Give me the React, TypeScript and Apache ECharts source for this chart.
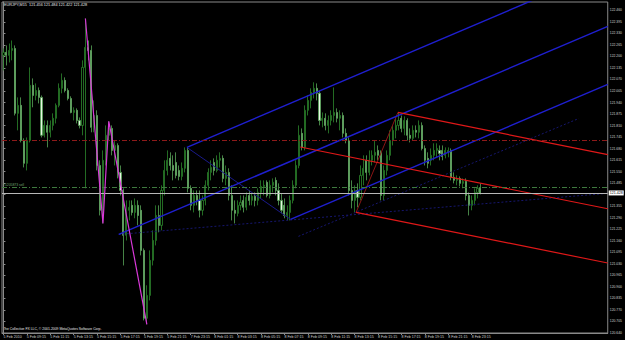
import React, { useEffect, useRef } from 'react';
import * as echarts from 'echarts';

// ---------- data ----------
const symbolTitle = 'EURJPY,M15  121.456 121.484 121.422 121.428';
const copyright = 'The Collective FX LLC, \u00a9 2001-2009 MetaQuotes Software Corp.';
const orderLabel = '#1205873 sell';

const timeLabels = [
  '5 Feb 2010', '5 Feb 09:15', '5 Feb 11:15', '5 Feb 13:15', '5 Feb 15:15', '5 Feb 17:15',
  '5 Feb 19:15', '5 Feb 21:15', '7 Feb 23:15', '8 Feb 01:15', '8 Feb 03:15', '8 Feb 05:15',
  '8 Feb 07:15', '8 Feb 09:15', '8 Feb 11:15', '8 Feb 13:15', '8 Feb 15:15', '8 Feb 17:15',
  '8 Feb 19:15', '8 Feb 21:15', '8 Feb 23:15',
];

const opens = [
  122.206, 122.223, 122.206, 122.234, 122.245, 121.879, 121.924, 121.726, 121.597, 121.726,
  122.037, 121.980, 122.008, 121.969, 121.755, 121.811, 121.772, 121.811, 121.851, 121.924,
  122.020, 122.065, 122.008, 121.963, 121.884, 121.896, 121.839, 121.811, 122.138, 122.251,
  122.234, 121.800, 121.867, 121.585, 121.332, 121.614, 121.755, 121.794, 121.670, 121.698,
  121.546, 121.444, 121.191, 121.332, 121.360, 121.320, 121.360, 121.332, 121.106, 120.723,
  120.852, 121.050, 121.162, 121.303, 121.247, 121.444, 121.557, 121.625, 121.585, 121.602,
  121.557, 121.523, 121.569, 121.670, 121.456, 121.360, 121.416, 121.388, 121.332, 121.388,
  121.473, 121.546, 121.602, 121.557, 121.614, 121.625, 121.512, 121.546, 121.416, 121.332,
  121.315, 121.360, 121.388, 121.349, 121.416, 121.388, 121.411, 121.388, 121.433, 121.467,
  121.490, 121.416, 121.473, 121.501, 121.444, 121.388, 121.360, 121.303, 121.320, 121.388,
  121.473, 121.585, 121.766, 121.687, 121.896, 121.952, 121.997, 122.020, 121.992, 121.839,
  121.851, 121.811, 121.839, 121.867, 121.884, 121.851, 121.867, 121.766, 121.726, 121.444,
  121.388, 121.444, 121.405, 121.529, 121.614, 121.546, 121.614, 121.642, 121.670, 121.659,
  121.416, 121.557, 121.642, 121.726, 121.783, 121.811, 121.851, 121.794, 121.839, 121.755,
  121.738, 121.783, 121.772, 121.811, 121.681, 121.625, 121.614, 121.642, 121.670, 121.670,
  121.670, 121.642, 121.659, 121.670, 121.518, 121.501, 121.512, 121.484, 121.495, 121.416,
  121.360, 121.388, 121.433, 121.456,
];
const closes = [
  122.223, 122.206, 122.234, 122.245, 121.879, 121.924, 121.726, 121.597, 121.726, 122.037,
  121.980, 122.008, 121.969, 121.755, 121.811, 121.772, 121.811, 121.851, 121.924, 122.020,
  122.065, 122.008, 121.963, 121.884, 121.896, 121.839, 121.811, 122.138, 122.251, 122.234,
  121.800, 121.867, 121.585, 121.332, 121.614, 121.755, 121.794, 121.670, 121.698, 121.546,
  121.444, 121.191, 121.332, 121.349, 121.320, 121.360, 121.303, 121.106, 120.723, 120.852,
  121.050, 121.162, 121.303, 121.247, 121.444, 121.557, 121.614, 121.585, 121.557, 121.529,
  121.523, 121.569, 121.670, 121.456, 121.360, 121.416, 121.388, 121.332, 121.388, 121.473,
  121.546, 121.574, 121.557, 121.614, 121.625, 121.512, 121.546, 121.416, 121.332, 121.315,
  121.360, 121.377, 121.349, 121.405, 121.388, 121.411, 121.388, 121.433, 121.467, 121.473,
  121.416, 121.473, 121.490, 121.444, 121.388, 121.332, 121.303, 121.320, 121.388, 121.473,
  121.585, 121.755, 121.687, 121.896, 121.952, 121.997, 122.020, 121.992, 121.839, 121.851,
  121.811, 121.839, 121.867, 121.884, 121.851, 121.867, 121.766, 121.726, 121.444, 121.388,
  121.444, 121.405, 121.529, 121.569, 121.546, 121.614, 121.642, 121.659, 121.642, 121.416,
  121.557, 121.642, 121.726, 121.783, 121.811, 121.839, 121.794, 121.839, 121.755, 121.738,
  121.783, 121.772, 121.811, 121.681, 121.614, 121.597, 121.642, 121.670, 121.681, 121.653,
  121.636, 121.670, 121.670, 121.518, 121.501, 121.512, 121.484, 121.495, 121.416, 121.360,
  121.388, 121.433, 121.456, 121.428,
];
const lows = [
  122.121, 122.149, 122.166, 122.178, 121.867, 121.783, 121.715, 121.574, 121.557, 121.715,
  121.913, 121.952, 121.935, 121.743, 121.743, 121.687, 121.743, 121.783, 121.822, 121.913,
  121.992, 121.997, 121.952, 121.879, 121.839, 121.822, 121.794, 121.755, 121.456, 122.178,
  121.772, 121.772, 121.557, 121.303, 121.258, 121.585, 121.726, 121.642, 121.585, 121.512,
  121.416, 121.021, 121.162, 121.275, 121.303, 121.287, 121.247, 121.078, 120.711, 120.689,
  120.824, 121.021, 121.134, 121.208, 121.219, 121.416, 121.529, 121.557, 121.501, 121.512,
  121.501, 121.501, 121.546, 121.433, 121.332, 121.320, 121.360, 121.292, 121.303, 121.360,
  121.444, 121.501, 121.529, 121.546, 121.574, 121.490, 121.473, 121.388, 121.275, 121.258,
  121.298, 121.332, 121.320, 121.332, 121.360, 121.360, 121.354, 121.360, 121.399, 121.416,
  121.405, 121.399, 121.433, 121.416, 121.360, 121.315, 121.287, 121.275, 121.275, 121.371,
  121.456, 121.569, 121.670, 121.670, 121.867, 121.907, 121.963, 121.952, 121.811, 121.800,
  121.783, 121.766, 121.811, 121.828, 121.828, 121.783, 121.743, 121.710, 121.416, 121.343,
  121.320, 121.349, 121.388, 121.473, 121.501, 121.529, 121.585, 121.602, 121.614, 121.388,
  121.388, 121.529, 121.614, 121.698, 121.738, 121.783, 121.772, 121.755, 121.726, 121.715,
  121.726, 121.743, 121.738, 121.670, 121.585, 121.569, 121.585, 121.614, 121.631, 121.614,
  121.614, 121.625, 121.631, 121.501, 121.484, 121.473, 121.467, 121.456, 121.388, 121.303,
  121.332, 121.360, 121.399, 121.422,
];
const highs = [
  122.245, 122.262, 122.273, 122.290, 122.262, 121.969, 121.969, 121.738, 121.743, 122.138,
  122.076, 122.048, 122.025, 121.980, 121.839, 121.839, 121.839, 121.879, 121.935, 122.048,
  122.104, 122.082, 122.020, 121.975, 121.913, 121.907, 121.856, 122.178, 122.414, 122.290,
  122.262, 121.952, 121.896, 121.614, 121.670, 121.811, 121.834, 121.811, 121.726, 121.710,
  121.585, 121.456, 121.388, 121.388, 121.388, 121.399, 121.388, 121.360, 121.117, 120.909,
  121.106, 121.219, 121.360, 121.360, 121.473, 121.614, 121.670, 121.659, 121.642, 121.659,
  121.585, 121.602, 121.687, 121.687, 121.473, 121.444, 121.444, 121.444, 121.416, 121.501,
  121.569, 121.614, 121.625, 121.642, 121.659, 121.642, 121.585, 121.569, 121.473, 121.388,
  121.388, 121.416, 121.416, 121.433, 121.444, 121.428, 121.433, 121.456, 121.501, 121.501,
  121.501, 121.501, 121.512, 121.518, 121.484, 121.428, 121.399, 121.360, 121.416, 121.501,
  121.614, 121.811, 121.794, 121.924, 121.980, 122.020, 122.054, 122.048, 122.008, 121.884,
  121.879, 121.867, 121.896, 122.025, 121.907, 121.896, 121.884, 121.794, 121.743, 121.501,
  121.473, 121.484, 121.585, 121.642, 121.642, 121.670, 121.670, 121.726, 121.698, 121.670,
  121.585, 121.670, 121.783, 121.811, 121.856, 121.884, 121.867, 121.862, 121.851, 121.794,
  121.811, 121.811, 121.839, 121.828, 121.698, 121.659, 121.681, 121.710, 121.710, 121.698,
  121.698, 121.687, 121.687, 121.681, 121.546, 121.529, 121.523, 121.512, 121.512, 121.433,
  121.416, 121.456, 121.473, 121.484,
];

// drawn objects (bar index, price)
const bluePivots = [[39.4, 121.196], [62.7, 121.687], [98.1, 121.281]];
const redPivots = [[101.4, 121.689], [134.8, 121.884], [120.5, 121.320]];
const zigzag = [[28, 122.414], [34, 121.258], [36, 121.834], [49, 120.689]];
const warnLine1 = [[39.4, 121.196], [206.5, 121.428]];
const warnLine2 = [[100.8, 121.185], [196.6, 121.85]];
const resistanceLevel = 121.726;
const orderLevel = 121.461;
const bidLevel = 121.428;

const slotCount = 207;
const yMin = 120.64;
const yMax = 122.507;
const yStep = 0.065;

// ---------- helpers ----------
const xEnd = slotCount - 0.5;
function pitchfork(p: number[][]) {
  const [a, b, c] = p;
  const mid = [(b[0] + c[0]) / 2, (b[1] + c[1]) / 2];
  const slope = (mid[1] - a[1]) / (mid[0] - a[0]);
  const ext = (q: number[]) => [q, [xEnd, q[1] + slope * (xEnd - q[0])]];
  return { median: ext(a), upper: ext(b), lower: ext(c), connector: [b, c] };
}

function seg(data: number[][], color: string, width: number, type: any = 'solid', z = 4) {
  return {
    type: 'line',
    xAxisIndex: 1,
    yAxisIndex: 0,
    data,
    symbol: 'none',
    silent: true,
    clip: true,
    z,
    lineStyle: { color, width, type },
  };
}

export default function App() {
  const ref = useRef<HTMLDivElement>(null);

  useEffect(() => {
    if (!ref.current) return;
    const chart = echarts.init(ref.current, undefined, { renderer: 'svg' });
    const blue = pitchfork(bluePivots);
    const red = pitchfork(redPivots);
    const font = 'Liberation Sans, Arial, sans-serif';
    const candles = opens.map((o, i) => [o, closes[i], lows[i], highs[i]]);
    const categories = Array.from({ length: slotCount }, (_, i) => String(i));
    const showLabel = (i: number) => i % 8 === 0 && i / 8 < timeLabels.length;

    chart.setOption({
      animation: false,
      backgroundColor: '#000000',
      textStyle: { fontFamily: font },
      grid: {
        left: 2, top: 2, right: 14, bottom: 7,
        show: true, borderColor: '#8a8a8a', borderWidth: 1, backgroundColor: '#000',
      },
      xAxis: [
        {
          type: 'category',
          data: categories,
          boundaryGap: true,
          axisLine: { lineStyle: { color: '#8a8a8a', width: 1 } },
          axisTick: { show: true, interval: showLabel, alignWithLabel: true, length: 2, lineStyle: { color: '#8a8a8a' } },
          axisLabel: {
            interval: showLabel,
            formatter: (_v: string, i: number) => timeLabels[i / 8] ?? '',
            color: '#d0d0d0', fontSize: 3.6, align: 'left', margin: 2, fontFamily: font,
          },
          splitLine: { show: false },
        },
        { type: 'value', min: -0.5, max: slotCount - 0.5, show: false },
      ],
      yAxis: {
        type: 'value',
        position: 'right',
        min: yMin,
        max: yMax,
        interval: yStep,
        scale: true,
        axisLine: { show: true, lineStyle: { color: '#8a8a8a', width: 1 } },
        axisTick: { show: true, length: 2, lineStyle: { color: '#8a8a8a' } },
        axisLabel: {
          color: '#d0d0d0', fontSize: 3.4, margin: 2, showMaxLabel: false, fontFamily: font,
          // the label hidden under the bid price box is left blank
          formatter: (v: number) => (Math.abs(v - bidLevel) < yStep * 0.6 ? '' : v.toFixed(3)),
        },
        splitLine: { show: false },
      },
      graphic: [
        { type: 'text', left: 4, top: 3, style: { text: symbolTitle, fill: '#e8e8e8', fontSize: 3.8, fontFamily: font } },
        { type: 'text', left: 3, top: 327, style: { text: copyright, fill: '#e8e8e8', fontSize: 3.4, fontFamily: font } },
      ],
      series: [
        {
          type: 'candlestick',
          data: candles,
          xAxisIndex: 0,
          yAxisIndex: 0,
          barWidth: 1.6,
          z: 2,
          silent: true,
          itemStyle: {
            color: '#000000',
            borderColor: '#2c862c',
            color0: '#e6f5e2',
            borderColor0: '#58a458',
            borderWidth: 0.8,
          },
          markLine: {
            silent: true,
            symbol: 'none',
            animation: false,
            data: [
              {
                yAxis: resistanceLevel,
                lineStyle: { color: '#8e1a1a', width: 1, type: [5, 2, 1, 2] },
                label: { show: false },
              },
              {
                yAxis: orderLevel,
                lineStyle: { color: '#3f7a3f', width: 1, type: [5, 2, 1, 2] },
                label: {
                  show: true, position: 'insideStartTop', formatter: orderLabel,
                  color: '#6fa86f', fontSize: 3.4, distance: 1, fontFamily: font,
                },
              },
              {
                yAxis: bidLevel,
                lineStyle: { color: '#b8b8b8', width: 1, type: 'solid' },
                label: {
                  show: true, position: 'end', formatter: bidLevel.toFixed(3),
                  color: '#000', backgroundColor: '#ffffff', fontSize: 3.6,
                  padding: [0.5, 1], distance: 1, fontFamily: font,
                },
              },
            ],
          },
        },
        seg(warnLine1, '#16166e', 1, [2, 2], 3),
        seg(warnLine2, '#16166e', 1, [2, 2], 3),
        seg(blue.connector, '#1a1a8a', 1, 'solid', 3),
        seg(blue.median, '#1f1fd0', 1.4),
        seg(blue.upper, '#1f1fd0', 1.4),
        seg(blue.lower, '#1f1fd0', 1.4),
        seg(red.connector, '#8a1515', 1, 'solid', 3),
        seg(red.median, '#e01818', 1.2),
        seg(red.upper, '#e01818', 1.2),
        seg(red.lower, '#e01818', 1.2),
        seg(zigzag, '#d838d8', 1.2, 'solid', 5),
      ],
    });
    return () => chart.dispose();
  }, []);

  return (
    <div
      ref={ref}
      style={{ position: 'fixed', left: 0, top: 0, width: 625, height: 340, background: '#000' }}
    />
  );
}
